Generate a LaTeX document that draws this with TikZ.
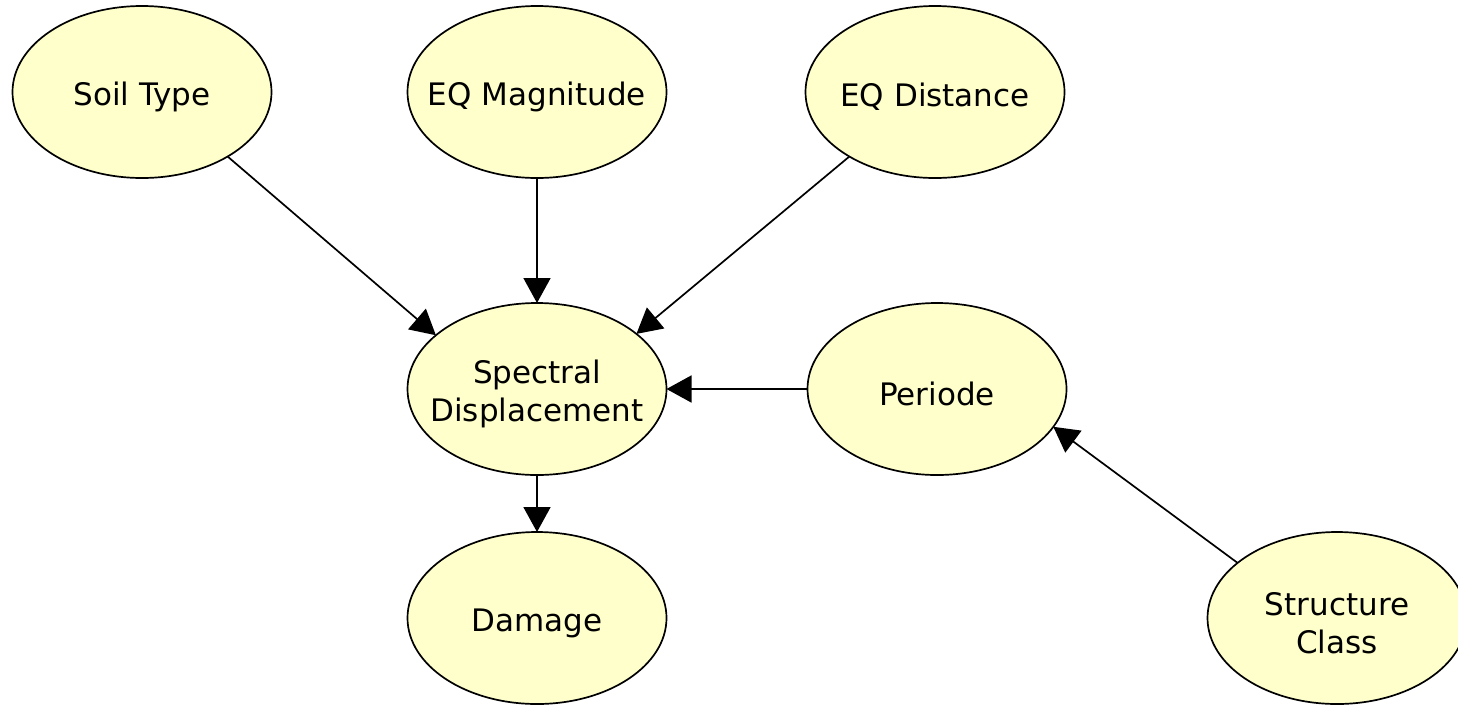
\documentclass[tikz,border=0pt]{standalone}
\usepackage{fontspec}
\setmainfont{DejaVu Sans}
\usetikzlibrary{shapes.geometric,arrows.meta}
\definecolor{nodefill}{RGB}{255,255,204}
\tikzset{
  var/.style={ellipse, draw=black, fill=nodefill, line width=1.7pt,
    minimum width=259pt, minimum height=172pt, inner sep=0pt, outer sep=0pt},
  txt/.style={align=center, inner sep=0pt, yshift=-5pt,
    font=\fontsize{31}{38}\selectfont},
  edge/.style={draw=black, line width=1.7pt, -{Triangle[length=25pt,width=27pt]}}
}
\begin{document}
\begin{tikzpicture}[x=1pt,y=1pt]
  \useasboundingbox (0,0) rectangle (1458,-705);
  \clip (0,0) rectangle (1458,-705);

  % variables of the network
  \node[var, label={[txt]center:Soil Type}]     (soil)   at (142,-92)  {};
  \node[var, label={[txt]center:EQ Magnitude}]  (eqm)    at (537,-92)  {};
  \node[var, label={[txt]center:EQ Distance}]   (eqd)    at (935,-92)  {};
  \node[var, label={[txt]center:Spectral\\Displacement}] (spec) at (537,-389) {};
  \node[var, label={[txt]center:Periode}]       (per)    at (937,-389) {};
  \node[var, label={[txt]center:Damage}]        (dmg)    at (537,-618) {};
  \node[var, label={[txt]center:Structure\\Class}] (struct) at (1337,-618) {};

  % dependencies
  \draw[edge] (soil.-37.5) -- (spec.152);
  \draw[edge] (eqm.south)  -- (spec.north);
  \draw[edge] (eqd.-143)   -- (spec.29.4);
  \draw[edge] (per.west)   -- (spec.east);
  \draw[edge] (struct.151) -- (per.-18);
  \draw[edge] (spec.south) -- (dmg.north);
\end{tikzpicture}
\end{document}
